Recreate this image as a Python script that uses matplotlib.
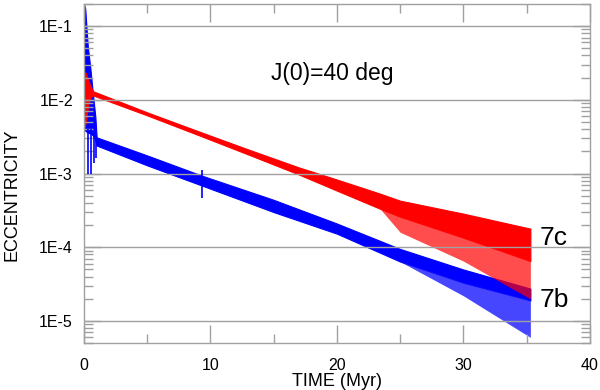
import numpy as np
import matplotlib
matplotlib.use("Agg")
import matplotlib.pyplot as plt
from matplotlib.ticker import LogLocator, FixedLocator, FixedFormatter

plt.rcParams['font.family'] = ['Liberation Sans', 'DejaVu Sans']

# red curve (planet 7c): envelope of the oscillating eccentricity
t_red = [0, 0.15, 0.35, 0.55, 0.7, 5, 9.3, 13, 17, 20, 23.4, 25, 30, 35.3]
red_hi = [2.4e-2, 2.3e-2, 1.8e-2, 1.5e-2, 1.31e-2, 6.76e-3, 3.61e-3, 2.12e-3,
          1.21e-3, 8.3e-4, 5.35e-4, 4.29e-4, 2.86e-4, 1.79e-4]
red_lo = [4e-3, 5e-3, 9e-3, 1.1e-2, 1.15e-2, 6.15e-3, 3.2e-3, 1.81e-3,
          9.7e-4, 5.87e-4, 3.34e-4, 2.6e-4, 1.35e-4, 6.5e-5]
# lighter, spiky part at late times
t_red_sp = [23.4, 25, 30, 35.3]
red_sp_lo = [3.34e-4, 1.6e-4, 6.5e-5, 2.0e-5]

# blue curve (planet 7b)
t_blue = [0, 0.1, 0.3, 0.5, 0.7, 0.9, 1.0, 5, 9.3, 15, 20, 25, 30, 35.3]
blue_hi = [0.2, 0.17, 0.053, 0.027, 0.0123, 0.0058, 3.1e-3, 1.76e-3, 9.4e-4,
           4.4e-4, 2.1e-4, 9.5e-5, 5.0e-5, 2.75e-5]
blue_lo = [4.2e-3, 3.8e-3, 3.6e-3, 3.5e-3, 3.3e-3, 2.8e-3, 2.4e-3, 1.29e-3,
           6.9e-4, 3.0e-4, 1.53e-4, 6.4e-5, 3.3e-5, 1.9e-5]
t_blue_sp = [25, 30, 35.3]
blue_sp_lo = [6.4e-5, 2.2e-5, 6e-6]
# isolated downward spikes
t_blue_spk = [0.34, 0.55, 0.79, 0.92, 9.3]
blue_spk_hi = [4e-3, 4e-3, 3.5e-3, 3e-3, 1.1e-3]
blue_spk_lo = [1e-3, 1e-3, 1.37e-3, 1.65e-3, 4.7e-4]

ytick_vals = [1e-5, 1e-4, 1e-3, 1e-2, 1e-1]
ytick_labels = ['1E-5', '1E-4', '1E-3', '1E-2', '1E-1']

grey = '#a0a0a0'

fig = plt.figure(figsize=(6, 3.9), dpi=100)
ax = fig.add_axes([0.14, 0.12, 0.843, 0.87])

# blue first, red on top
ax.fill_between(t_blue, blue_lo, blue_hi, color='#0000ff', lw=0.8, edgecolor='#0000ff')
ax.fill_between(t_blue_sp, blue_sp_lo, np.interp(t_blue_sp, t_blue, blue_lo),
                color='#1818ff', alpha=0.8, lw=0)
ax.vlines(t_blue_spk, blue_spk_lo, blue_spk_hi, color='#0000ff', lw=1.2)

ax.fill_between(t_red, red_lo, red_hi, color='#ff0000', lw=0.8, edgecolor='#ff0000')
ax.fill_between(t_red_sp, red_sp_lo, np.interp(t_red_sp, t_red, red_lo),
                color='#ff0000', alpha=0.7, lw=0)

ax.set_yscale('log')
ax.set_xlim(0, 40)
ax.set_ylim(5e-6, 2e-1)

ax.yaxis.set_major_locator(FixedLocator(ytick_vals))
ax.yaxis.set_major_formatter(FixedFormatter(ytick_labels))
ax.yaxis.set_minor_locator(LogLocator(base=10, subs=np.arange(2, 10), numticks=20))
ax.yaxis.set_minor_formatter(plt.NullFormatter())
ax.set_xticks([0, 10, 20, 30, 40])
ax.set_xticks([5, 15, 25, 35], minor=True)

ax.grid(True, axis='y', which='major', color=grey, lw=1)
for s in ax.spines.values():
    s.set_color(grey)
    s.set_linewidth(1)
ax.tick_params(which='both', direction='in', top=True, right=True, color=grey,
               labelsize=11.5, width=1)
ax.tick_params(axis='x', which='major', length=13, pad=11)
ax.tick_params(axis='x', which='minor', length=6.5)
ax.tick_params(axis='y', which='major', length=12, pad=8)
ax.tick_params(axis='y', which='minor', length=6.5)

ax.set_xlabel('TIME (Myr)', fontsize=13, labelpad=0)
fig.text(12 / 600, 1 - 195 / 390, 'ECCENTRICITY', fontsize=13, rotation=90,
         ha='center', va='center')

ax.text(19.6, 2.3e-2, 'J(0)=40 deg', fontsize=16.5, ha='center', va='center')
ax.text(36.0, 1.35e-4, '7c', fontsize=19, ha='left', va='center')
ax.text(36.0, 1.93e-5, '7b', fontsize=19, ha='left', va='center')

fig.savefig('out.png', dpi=100)
